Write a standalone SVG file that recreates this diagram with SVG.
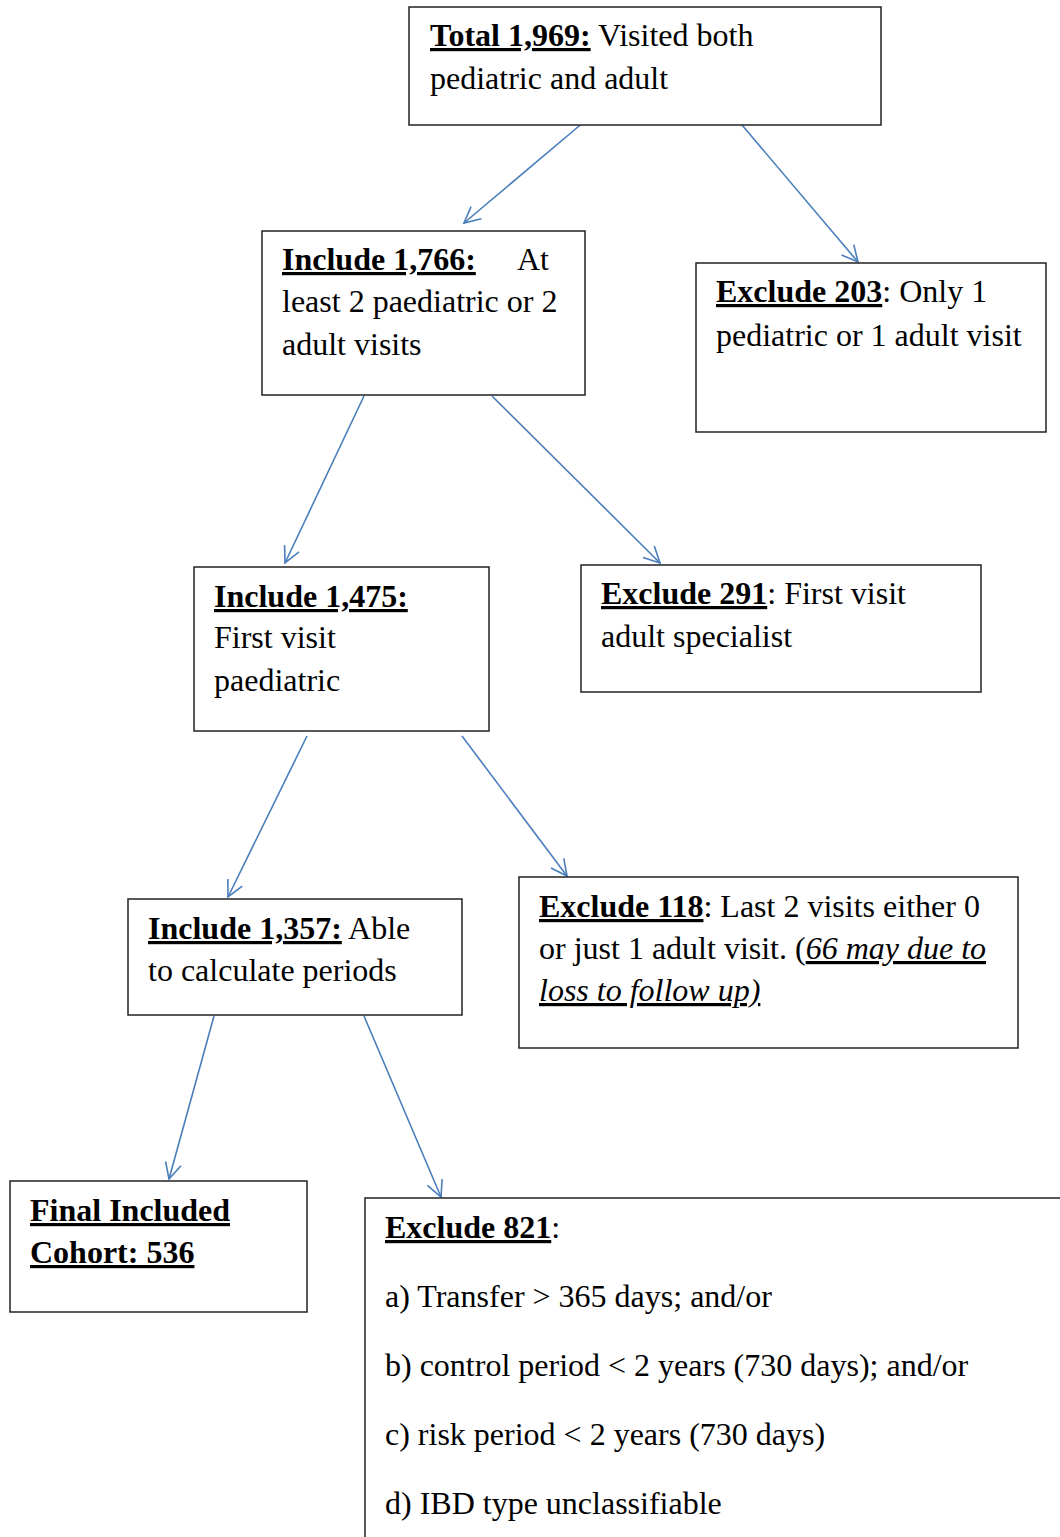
<svg xmlns="http://www.w3.org/2000/svg" width="1060" height="1537" viewBox="0 0 1060 1537">
<style>
.box{fill:#fff;stroke:#222;stroke-width:1.5}
.t{font-family:"Liberation Serif","Times New Roman",serif;font-size:32px;fill:#000}
.b{font-weight:bold;text-decoration:underline}
.u{text-decoration:underline}
.i{font-style:italic;text-decoration:underline}
.c{stroke:#4A7EBB;stroke-width:1.6;fill:none}
</style>
<defs>
<marker id="ah" viewBox="0 0 20 20" refX="18" refY="10" markerWidth="20" markerHeight="20" markerUnits="userSpaceOnUse" orient="auto">
<path d="M2,2 L18,10 L2,18" fill="none" stroke="#4A7EBB" stroke-width="1.6"/>
</marker>
</defs>
<rect width="1060" height="1537" fill="#fff"/>
<g id="connectors">
<line class="c" x1="585" y1="121" x2="464" y2="223" marker-end="url(#ah)"/>
<line class="c" x1="742" y1="125" x2="858" y2="262" marker-end="url(#ah)"/>
<line class="c" x1="364" y1="396" x2="285" y2="563" marker-end="url(#ah)"/>
<line class="c" x1="492" y1="396" x2="660" y2="563" marker-end="url(#ah)"/>
<line class="c" x1="307" y1="736" x2="228" y2="897" marker-end="url(#ah)"/>
<line class="c" x1="462" y1="736" x2="567" y2="876" marker-end="url(#ah)"/>
<line class="c" x1="214" y1="1016" x2="169" y2="1179" marker-end="url(#ah)"/>
<line class="c" x1="364" y1="1016" x2="441" y2="1197" marker-end="url(#ah)"/>
</g>
<g id="total">
<rect class="box" x="409" y="7" width="472" height="118"/>
<text class="t" x="430" y="46"><tspan class="b">Total 1,969:</tspan> Visited both</text>
<text class="t" x="430" y="89">pediatric and adult</text>
</g>
<g id="include1766">
<rect class="box" x="262" y="231" width="323" height="164"/>
<text class="t" x="282" y="270"><tspan class="b">Include 1,766:</tspan><tspan x="517">At</tspan></text>
<text class="t" x="282" y="312">least 2 paediatric or 2</text>
<text class="t" x="282" y="355">adult visits</text>
</g>
<g id="exclude203">
<rect class="box" x="696" y="263" width="350" height="169"/>
<text class="t" x="716" y="302"><tspan class="b">Exclude 203</tspan>: Only 1</text>
<text class="t" x="716" y="346">pediatric or 1 adult visit</text>
</g>
<g id="include1475">
<rect class="box" x="194" y="567" width="295" height="164"/>
<text class="t" x="214" y="607"><tspan class="b">Include 1,475:</tspan></text>
<text class="t" x="214" y="648">First visit</text>
<text class="t" x="214" y="691">paediatric</text>
</g>
<g id="exclude291">
<rect class="box" x="581" y="565" width="400" height="127"/>
<text class="t" x="601" y="604"><tspan class="b">Exclude 291</tspan>: First visit</text>
<text class="t" x="601" y="647">adult specialist</text>
</g>
<g id="include1357">
<rect class="box" x="128" y="899" width="334" height="116"/>
<text class="t" x="148" y="939"><tspan class="b">Include 1,357:</tspan> Able</text>
<text class="t" x="148" y="981">to calculate periods</text>
</g>
<g id="exclude118">
<rect class="box" x="519" y="877" width="499" height="171"/>
<text class="t" x="539" y="917"><tspan class="b">Exclude 118</tspan>: Last 2 visits either 0</text>
<text class="t" x="539" y="959">or just 1 adult visit. (<tspan class="i">66 may due to</tspan></text>
<text class="t" x="539" y="1001"><tspan class="i">loss to follow up)</tspan></text>
</g>
<g id="final">
<rect class="box" x="10" y="1181" width="297" height="131"/>
<text class="t" x="30" y="1221"><tspan class="b">Final Included</tspan></text>
<text class="t" x="30" y="1263"><tspan class="b">Cohort: 536</tspan></text>
</g>
<g id="exclude821">
<path class="box" d="M1062,1198 L365,1198 L365,1540" fill="none"/>
<text class="t" x="385" y="1238"><tspan class="b">Exclude 821</tspan>:</text>
<text class="t" x="385" y="1307">a) Transfer &gt; 365 days; and/or</text>
<text class="t" x="385" y="1376">b) control period &lt; 2 years (730 days); and/or</text>
<text class="t" x="385" y="1445">c) risk period &lt; 2 years (730 days)</text>
<text class="t" x="385" y="1514">d) IBD type unclassifiable</text>
</g>
</svg>
